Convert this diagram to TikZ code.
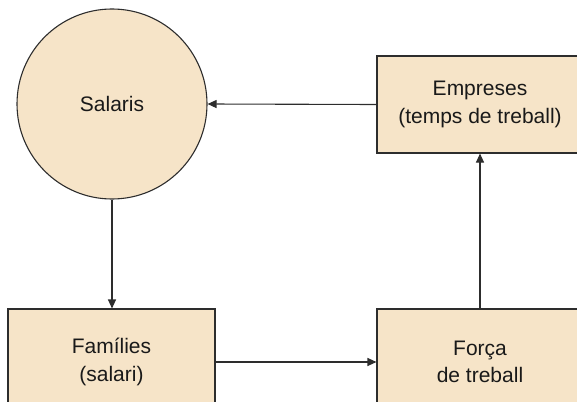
\documentclass[tikz,border=0pt]{standalone}
\usepackage{fontspec}
\setmainfont{Liberation Sans}
\usetikzlibrary{arrows.meta}
\definecolor{boxfill}{RGB}{246,228,200}
\definecolor{edge}{RGB}{45,45,45}
\begin{document}
\begin{tikzpicture}[x=1pt,y=-1pt,
  every node/.style={font=\fontsize{21}{27.5}\selectfont, text=black!90, align=center, inner sep=0pt},
  blk/.style={draw=edge, line width=1.1pt, fill=boxfill, rectangle},
  circ/.style={draw=edge, line width=1.1pt, fill=boxfill, circle, minimum size=190pt},
  conn/.style={draw=edge, line width=1.1pt, -{Triangle[length=9pt,width=8pt]}}]
\useasboundingbox (0,0) rectangle (577,401);
\node[circ] (sal) at (112,104) {Salaris};
\node[blk, minimum width=206pt, minimum height=97pt] (emp) at (480,104.5) {Empreses\\(temps de treball)};
\node[blk, minimum width=207pt, minimum height=106pt] (fam) at (111.5,362) {Famílies\\(salari)};
\node[blk, minimum width=206pt, minimum height=106pt] (for) at (480,362) {Força\\de treball};
\draw[conn] (emp.west) -- (sal.east);
\draw[conn] (sal.south) -- (sal.south |- fam.north);
\draw[conn] (fam.east) -- (for.west);
\draw[conn] (for.north) -- (emp.south);
\end{tikzpicture}
\end{document}
